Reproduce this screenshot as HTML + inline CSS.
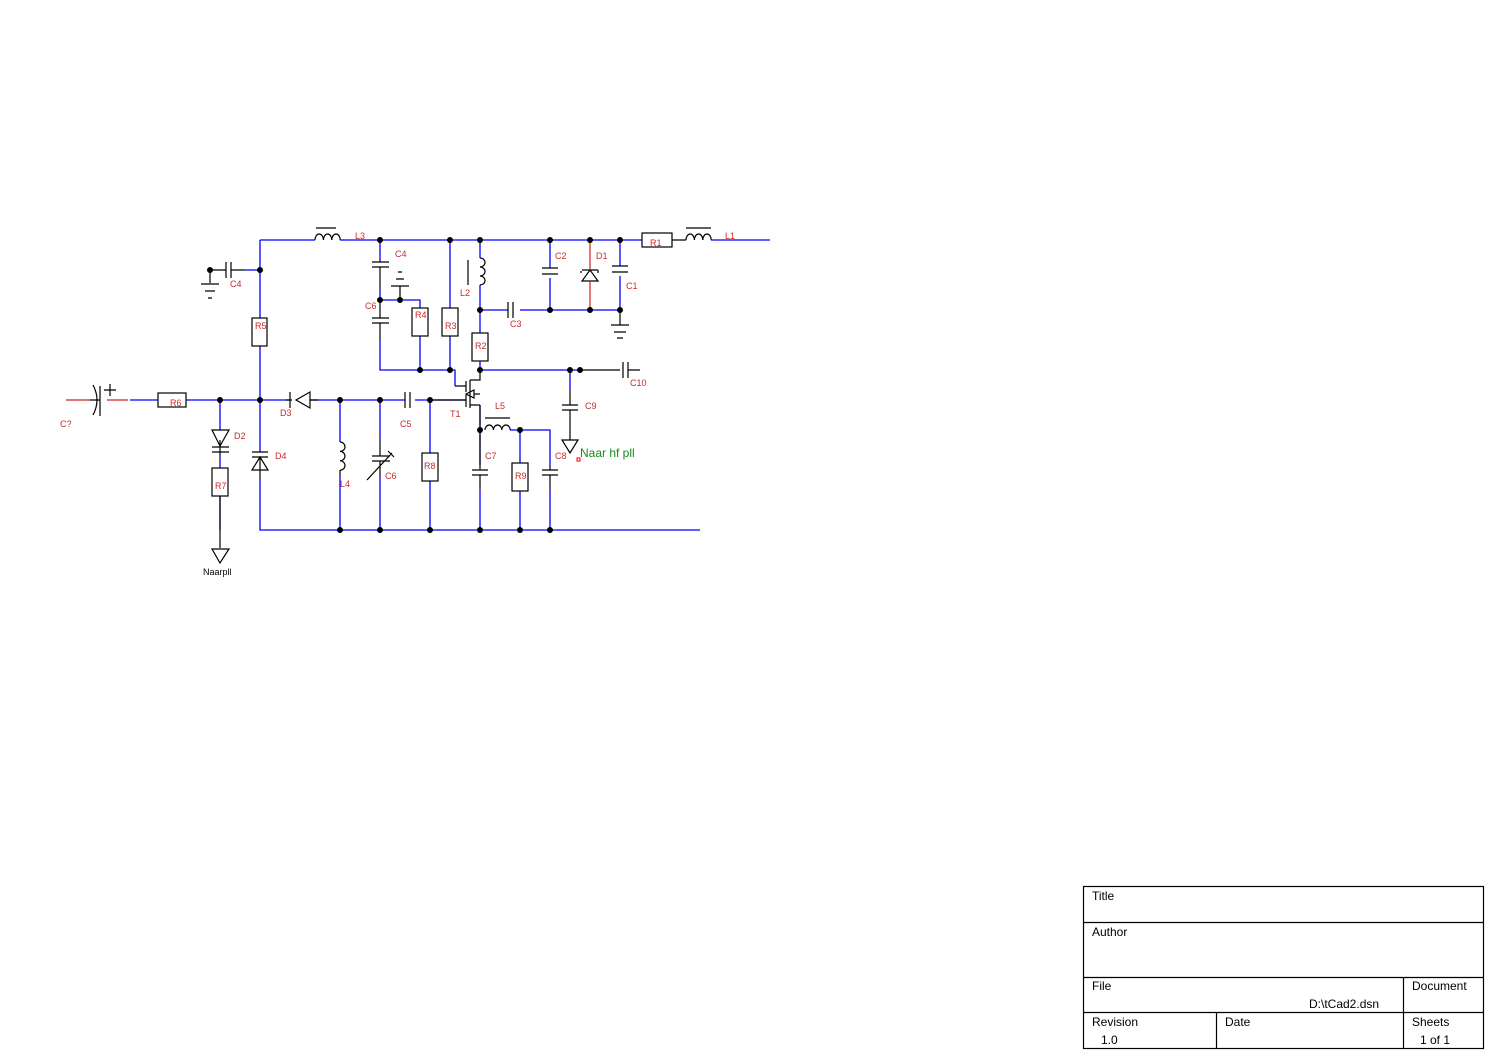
<!DOCTYPE html>
<html><head><meta charset="utf-8"><style>
html,body{margin:0;padding:0;background:#fff;}
svg{display:block;}
text{font-family:"Liberation Sans",sans-serif;}
.b{stroke:#0000ff;stroke-width:1.3;fill:none}
.k{stroke:#000;stroke-width:1.2;fill:none}
.r{stroke:#cc2222;stroke-width:1.2;fill:none}
.lb{fill:#cc2a2a;font-size:9px}
.tb{fill:#000;font-size:12px}
</style></head><body>
<svg width="1495" height="1060" viewBox="0 0 1495 1060" xmlns="http://www.w3.org/2000/svg">
<path class="b" d="M260 240H315 M340 240H642 M711 240H770
M260 240V318 M260 346V452 M260 480V530 H700
M245 270H260
M130 400H158 M186 400H290 M310 400H405 M415 400H466
M220 400V430 M220 455V468 M220 496V530
M340 400V442 M340 475V530
M380 400V440 M380 475V530
M430 400V453 M430 481V530
M380 240V262 M380 290V300 H420 V308 M420 336V370
M380 340V370 H455 V386
M450 240V308 M450 336V370
M480 240V258 M480 285V333 M480 361V370 H580
M480 310H508 M520 310H620
M550 240V268 M550 278V310
M620 240V266 M620 276V310
M570 370V390
M480 405V465 M480 490V530
M510 430H550 V465 M550 490V530
M520 430V463 M520 491V530"/>
<path class="k" d="M210 270H226 M226 262V278 M231 262V278 M231 270H245
M210 270V283 M201 284H219 M205 291H215 M208 298H212
M315 240 a4.2 6 0 0 1 8.4 0 a4.2 6 0 0 1 8.4 0 a4.2 6 0 0 1 8.4 0 M316 228H336
M686 240 a4.2 6 0 0 1 8.4 0 a4.2 6 0 0 1 8.4 0 a4.2 6 0 0 1 8.4 0 M686 228H711 M672 240H686
M100 386V416 M90 400H100
M110 384V396 M104 390H116
M220 440V455 M212 447H229 M212 452H229
M220 496V548
M252 452H268 M252 457H268 M260 457V480
M290 392V408 M286 400H292 M310 400H318
M340 442 a5 4.7 0 0 1 0 9.4 a5 4.7 0 0 1 0 9.4 a5 4.7 0 0 1 0 9.4 M340 470V475
M380 440V456 M380 461V475 M372 456H390 M372 461H390 M367 480L392 453 M388 451L394 457
M405 392V408 M410 392V408
M372 262H389 M372 267H389 M380 267V290
M372 318H389 M372 323H389 M380 300V318 M380 323V340
M400 300V286 M391 286H409 M396 279H404 M398 272H402
M468 260V285
M480 258 a5 4.5 0 0 1 0 9 a5 4.5 0 0 1 0 9 a5 4.5 0 0 1 0 9
M508 302V318 M513 302V318
M542 268H558 M542 274H558
M612 266H628 M612 272H628
M620 310V325 M611 325H629 M614 332H626 M617 338H623
M580 370H620 M623 362V378 M628 362V378 M628 370H640
M570 390V405 M562 405H578 M562 410H578 M570 410V440
M455 386H466 M466 381V392 M466 395V407 M470 380V408 M470 380H480V370 M470 405H480 M430 400H466
M480 430V405
M485 430 a4.2 5 0 0 1 8.4 0 a4.2 5 0 0 1 8.4 0 a4.2 5 0 0 1 8.4 0 M485 418H510
M472 470H488 M472 475H488 M480 475V490 M480 430V470
M542 470H558 M542 475H558 M550 475V490 M550 465V470"/>
<polygon class="k" points="212,430 229,430 220,446"/>
<polygon class="k" points="252,470 268,470 260,457"/>
<polygon class="k" points="310,392 310,408 296,400"/>
<polygon class="k" points="582,281 598,281 590,270"/>
<path class="k" d="M580 272H582 M582 270H598 M598 270V273"/>
<path class="r" d="M590 240V270 M590 281V310"/>
<polygon class="k" points="466,394 474,390 474,398" fill="#000"/>
<path class="k" d="M474 394H480"/>
<polygon class="k" points="212,549 229,549 220,563"/>
<polygon class="k" points="562,440 578,440 570,453"/>
<path class="k" d="M93 385 Q101 400 93 415"/>
<path class="r" d="M66 400H90 M107 400H128"/>
<g class="k">
<rect x="158" y="393" width="28" height="14"/>
<rect x="642" y="233" width="30" height="14"/>
<rect x="252" y="318" width="15" height="28"/>
<rect x="212" y="468" width="16" height="28"/>
<rect x="412" y="308" width="16" height="28"/>
<rect x="442" y="308" width="16" height="28"/>
<rect x="472" y="333" width="16" height="28"/>
<rect x="422" y="453" width="16" height="28"/>
<rect x="512" y="463" width="16" height="28"/>
</g>
<g fill="#000">
<circle cx="210" cy="270" r="3"/><circle cx="260" cy="270" r="3"/>
<circle cx="380" cy="240" r="3"/><circle cx="450" cy="240" r="3"/><circle cx="480" cy="240" r="3"/>
<circle cx="550" cy="240" r="3"/><circle cx="590" cy="240" r="3"/><circle cx="620" cy="240" r="3"/>
<circle cx="380" cy="300" r="3"/><circle cx="400" cy="300" r="3"/>
<circle cx="480" cy="310" r="3"/><circle cx="550" cy="310" r="3"/><circle cx="590" cy="310" r="3"/><circle cx="620" cy="310" r="3"/>
<circle cx="420" cy="370" r="3"/><circle cx="450" cy="370" r="3"/><circle cx="480" cy="370" r="3"/>
<circle cx="570" cy="370" r="3"/><circle cx="580" cy="370" r="3"/>
<circle cx="220" cy="400" r="3"/><circle cx="260" cy="400" r="3"/><circle cx="340" cy="400" r="3"/>
<circle cx="380" cy="400" r="3"/><circle cx="430" cy="400" r="3"/>
<circle cx="480" cy="430" r="3"/><circle cx="520" cy="430" r="3"/>
<circle cx="340" cy="530" r="3"/><circle cx="380" cy="530" r="3"/><circle cx="430" cy="530" r="3"/>
<circle cx="480" cy="530" r="3"/><circle cx="520" cy="530" r="3"/><circle cx="550" cy="530" r="3"/>
</g>
<rect x="577" y="458" width="3" height="3" fill="none" stroke="#e00" stroke-width="1"/>
<g class="lb">
<text x="355" y="239">L3</text><text x="395" y="257">C4</text><text x="230" y="287">C4</text>
<text x="365" y="309">C6</text><text x="415" y="318">R4</text><text x="445" y="329">R3</text>
<text x="255" y="329">R5</text><text x="460" y="296">L2</text><text x="510" y="327">C3</text>
<text x="475" y="349">R2</text><text x="555" y="259">C2</text><text x="596" y="259">D1</text>
<text x="626" y="289">C1</text><text x="650" y="246">R1</text><text x="725" y="239">L1</text>
<text x="170" y="406">R6</text><text x="60" y="427">C?</text><text x="234" y="439">D2</text>
<text x="215" y="489">R7</text><text x="280" y="416">D3</text><text x="275" y="459">D4</text>
<text x="340" y="487">L4</text><text x="385" y="479">C6</text><text x="400" y="427">C5</text>
<text x="424" y="469">R8</text><text x="450" y="417">T1</text><text x="495" y="409">L5</text>
<text x="485" y="459">C7</text><text x="515" y="479">R9</text><text x="555" y="459">C8</text>
<text x="585" y="409">C9</text><text x="630" y="386">C10</text>
</g>
<text x="203" y="575" font-size="9" fill="#000">Naarpll</text>
<text x="580" y="457" font-size="12" fill="#1a8a1a">Naar hf pll</text>
<g class="k" stroke-width="1">
<rect x="1083.5" y="886.5" width="400" height="162"/>
<path d="M1083 922.5H1484 M1083 977.5H1484 M1083 1012.5H1484 M1403.5 977V1048 M1216.5 1012V1048"/>
</g>
<g class="tb">
<text x="1092" y="900">Title</text><text x="1092" y="936">Author</text>
<text x="1092" y="990">File</text><text x="1309" y="1008">D:\tCad2.dsn</text>
<text x="1412" y="990">Document</text>
<text x="1092" y="1026">Revision</text><text x="1101" y="1044">1.0</text>
<text x="1225" y="1026">Date</text><text x="1412" y="1026">Sheets</text><text x="1420" y="1044">1 of 1</text>
</g>
</svg>
</body></html>
